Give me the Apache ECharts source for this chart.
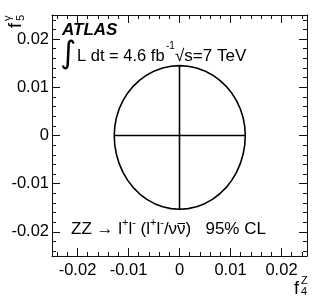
<!DOCTYPE html>
<html><head><meta charset="utf-8">
<script src="https://cdn.jsdelivr.net/npm/echarts@6/dist/echarts.min.js"></script>
<style>html,body{margin:0;padding:0;background:#fff}#c{width:324px;height:305px}</style>
</head><body><div id="c"></div>
<script>
// ---- data ----
const contourX = [0.0129, 0.01279, 0.01246, 0.01192, 0.01117, 0.01023, 0.00912, 0.00785, 0.00645, 0.00494, 0.00334, 0.00168,
  0, -0.00167, -0.00331, -0.0049, -0.0064, -0.00779, -0.00905, -0.01015, -0.01108, -0.01183, -0.01236, -0.01269,
  -0.0128, -0.01269, -0.01236, -0.01183, -0.01108, -0.01015, -0.00905, -0.00779, -0.0064, -0.0049, -0.00331, -0.00167,
  0, 0.00168, 0.00334, 0.00494, 0.00645, 0.00785, 0.00912, 0.01023, 0.01117, 0.01192, 0.01246, 0.01279, 0.0129];
const contourY = [0, 0.00189, 0.00375, 0.00555, 0.00725, 0.00883, 0.01025, 0.0115, 0.01256, 0.0134, 0.01401, 0.01438,
  0.0145, 0.01438, 0.01401, 0.0134, 0.01256, 0.0115, 0.01025, 0.00883, 0.00725, 0.00555, 0.00375, 0.00189,
  0, -0.002, -0.00396, -0.00585, -0.00765, -0.00931, -0.01082, -0.01214, -0.01325, -0.01414, -0.01478, -0.01517,
  -0.0153, -0.01517, -0.01478, -0.01414, -0.01325, -0.01214, -0.01082, -0.00931, -0.00765, -0.00585, -0.00396, -0.002, 0];
const limitF4 = [-0.0128, 0.0129];   // horizontal limit line (f4Z range at f5γ = 0)
const limitF5 = [-0.0153, 0.0145];   // vertical limit line (f5γ range at f4Z = 0)
const majorTicks = [-0.02, -0.01, 0, 0.01, 0.02];
const minorTicks = [-0.024, -0.022, -0.018, -0.016, -0.014, -0.012, -0.008, -0.006, -0.004, -0.002,
  0.002, 0.004, 0.006, 0.008, 0.012, 0.014, 0.016, 0.018, 0.022, 0.024];
const axisMin = -0.025, axisMax = 0.025;

const FONT = '"Liberation Sans", Arial, Helvetica, sans-serif';
const fmt = v => (Math.abs(v) < 1e-9 ? '0' : v.toFixed(2));

// text-run layout helper (measures widths for sub/superscripts)
const mctx = document.createElement('canvas').getContext('2d');
function run(x0, yMid, pieces) {
  const out = [];
  let x = x0;
  pieces.forEach(p => {
    const font = p.size + 'px ' + FONT;
    mctx.font = font;
    const w = mctx.measureText(p.t).width;
    out.push({ type: 'text', x: x, y: yMid + (p.dy || 0), style: { text: p.t, font: font, fill: '#000', verticalAlign: 'middle' } });
    if (p.bar) {
      mctx.font = font;
      const w0 = mctx.measureText(p.bar[0]).width;
      const w1 = mctx.measureText(p.bar[1]).width;
      out.push({ type: 'line', shape: { x1: x + w0 + 0.5, y1: yMid - 5.5, x2: x + w0 + w1 - 0.5, y2: yMid - 5.5 }, style: { stroke: '#000', lineWidth: 1 } });
    }
    x += w + (p.gap || 0);
  });
  return out;
}

function mkAxis(pos, ticks, len, showLine, showLabel, isY) {
  return {
    type: 'value', position: pos, min: axisMin, max: axisMax, gridIndex: 0,
    axisLine: { show: showLine, onZero: false, lineStyle: { color: '#111', width: 1 } },
    axisTick: { show: true, inside: true, length: len, customValues: ticks, lineStyle: { color: '#111', width: 1 } },
    axisLabel: showLabel ? { show: true, customValues: ticks, formatter: fmt, color: '#000', fontSize: 16.5, fontFamily: FONT, margin: isY ? 3 : 6 } : { show: false },
    splitLine: { show: false }
  };
}

const bottomText = run(71, 229, [
  { t: 'ZZ → l', size: 17 }, { t: '+', size: 11, dy: -6 }, { t: 'l', size: 17 }, { t: '-', size: 11, dy: -6 },
  { t: ' (l', size: 17 }, { t: '+', size: 11, dy: -6 }, { t: 'l', size: 17 }, { t: '-', size: 11, dy: -6 },
  { t: '/νν)', size: 17, bar: ['/ν', 'ν'] }, { t: '   95% CL', size: 17 }
]);

const chart = echarts.init(document.getElementById('c'), null, { renderer: 'canvas' });
chart.setOption({
  animation: false,
  backgroundColor: '#fff',
  grid: { left: 52, right: 17, top: 15, bottom: 49, containLabel: false },
  xAxis: [
    mkAxis('bottom', majorTicks, 8, true, true, false),
    mkAxis('bottom', minorTicks, 4, false, false, false),
    mkAxis('top', majorTicks, 8, true, false, false),
    mkAxis('top', minorTicks, 4, false, false, false)
  ],
  yAxis: [
    mkAxis('left', majorTicks, 8, true, true, true),
    mkAxis('left', minorTicks, 4, false, false, true),
    mkAxis('right', majorTicks, 8, true, false, true),
    mkAxis('right', minorTicks, 4, false, false, true)
  ],
  series: [
    { type: 'line', xAxisIndex: 0, yAxisIndex: 0, showSymbol: false, symbol: 'none', smooth: false,
      data: contourX.map((x, i) => [x, contourY[i]]),
      lineStyle: { color: '#000', width: 1.6 } },
    { type: 'line', xAxisIndex: 0, yAxisIndex: 0, symbol: 'none',
      data: [[limitF4[0], 0], [limitF4[1], 0]], lineStyle: { color: '#000', width: 1.6 } },
    { type: 'line', xAxisIndex: 0, yAxisIndex: 0, symbol: 'none',
      data: [[0, limitF5[0]], [0, limitF5[1]]], lineStyle: { color: '#000', width: 1.6 } }
  ],
  graphic: [
    { type: 'text', left: 62, top: 22, style: { text: 'ATLAS', font: 'italic bold 17px ' + FONT, fill: '#000' } },
    { type: 'text', x: 60, y: 55, style: { text: '∫', font: '31px "DejaVu Sans"', fill: '#000', verticalAlign: 'middle', align: 'left' } },
    { type: 'text', x: 77, y: 56, style: { text: 'L dt = 4.6 fb', font: '16.5px ' + FONT, fill: '#000', verticalAlign: 'middle' } },
    { type: 'text', x: 166, y: 46, style: { text: '-1', font: '10px ' + FONT, fill: '#000', verticalAlign: 'middle' } },
    { type: 'text', x: 175, y: 56, style: { text: '√s=7 TeV', font: '17px ' + FONT, fill: '#000', verticalAlign: 'middle' } },
    ...bottomText,
    { type: 'text', x: 294, y: 289, style: { text: 'f', font: '18px ' + FONT, fill: '#000', verticalAlign: 'middle' } },
    { type: 'text', x: 301, y: 281, style: { text: 'Z', font: '11px ' + FONT, fill: '#000', verticalAlign: 'middle' } },
    { type: 'text', x: 301, y: 292, style: { text: '4', font: '11px ' + FONT, fill: '#000', verticalAlign: 'middle' } },
    { type: 'group', x: 16, y: 28, rotation: Math.PI / 2, children: [
      { type: 'text', x: 0, y: 0, style: { text: 'f', font: '18px ' + FONT, fill: '#000', verticalAlign: 'middle' } },
      { type: 'text', x: 7, y: -8, style: { text: 'γ', font: '11px ' + FONT, fill: '#000', verticalAlign: 'middle' } },
      { type: 'text', x: 7, y: 5, style: { text: '5', font: '11px ' + FONT, fill: '#000', verticalAlign: 'middle' } }
    ] }
  ]
});
</script></body></html>
